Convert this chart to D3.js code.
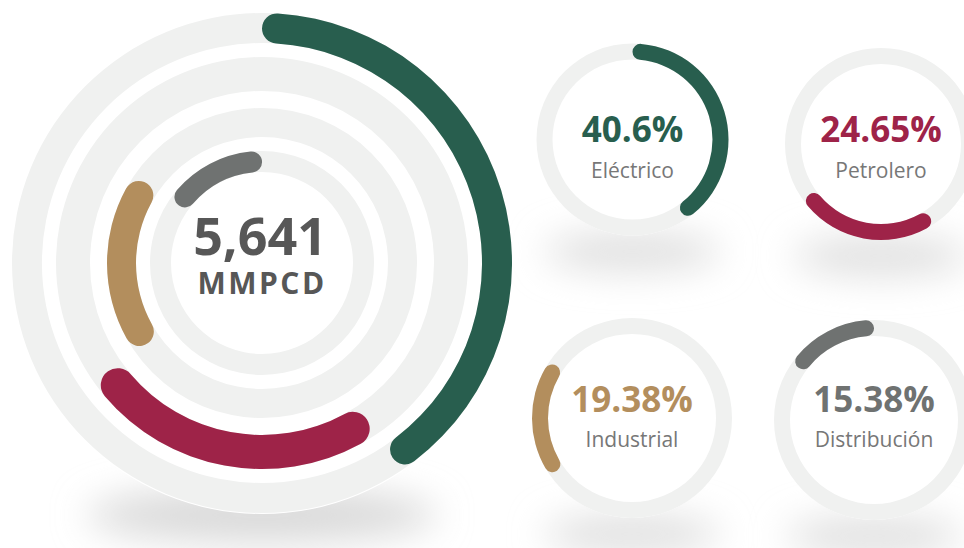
<!DOCTYPE html>
<html>
<head>
<meta charset="utf-8">
<script src="https://cdn.jsdelivr.net/npm/d3@7"></script>
<style>
	body { margin: 0; background: #fff; }
	svg { display: block; font-family: "Open Sans", "Noto Sans", sans-serif; }
</style>
</head>
<body>
<div class="gas"></div>
<script>
(function() {

	var width = 964;
	var height = 548;

	var categories = ["Eléctrico", "Petrolero", "Industrial", "Distribución"];
	var shares = [40.6, 24.65, 19.38, 15.38];
	var shareLabels = ["40.6%", "24.65%", "19.38%", "15.38%"];
	var totalLabel = "5,641";
	var unitLabel = "MMPCD";

	var colors = ["#285e4e", "#9e2348", "#b38e5d", "#6f7271"];
	var trackColor = "#f0f1f0";

	// big donut: one ring per category, outside in
	var big = { cx: 262, cy: 263 };
	var bigRings = [[220, 250], [172, 206], [126, 155], [91, 112]];

	// the four small donuts
	var small = [
		{ cx: 632.5, cy: 139.5, r: 96, pctY: 142, labY: 178 },
		{ cx: 881, cy: 144, r: 96, pctY: 142, labY: 178 },
		{ cx: 632, cy: 418, r: 100, pctY: 412, labY: 447 },
		{ cx: 874, cy: 420, r: 100, pctY: 412, labY: 447 }
	];
	var ringWidth = 16;

	var angle = d3.scaleLinear()
				  .domain([0, 100])
				  .range([0, 2 * Math.PI]);

	var ends = Array.from(d3.cumsum(shares));
	var starts = ends.map(function(d, i) { return d - shares[i]; });

	var svg = d3.select(".gas")
				.append("svg")
				.attr("width", width)
				.attr("height", height);

	var blur = svg.append("defs")
				  .append("filter")
				  .attr("id", "blur")
				  .attr("x", "-50%").attr("y", "-150%")
				  .attr("width", "200%").attr("height", "400%");
	blur.append("feGaussianBlur").attr("stdDeviation", 18);

	var arc = function(r0, r1, a0, a1) {
		return d3.arc()
				 .innerRadius(r0)
				 .outerRadius(r1)
				 .cornerRadius((r1 - r0) / 2)
				 .startAngle(a0)
				 .endAngle(a1)();
	};

	// shadows
	svg.append("ellipse")
	   .attr("cx", big.cx).attr("cy", big.cy + 252)
	   .attr("rx", 175).attr("ry", 28)
	   .attr("fill", "#dadada")
	   .attr("filter", "url(#blur)");

	svg.selectAll(".shadow")
	   .data(small)
	   .enter()
	   .append("ellipse")
	   .attr("class", "shadow")
	   .attr("cx", function(d) { return d.cx; })
	   .attr("cy", function(d) { return d.cy + d.r + 16; })
	   .attr("rx", 88).attr("ry", 20)
	   .attr("fill", "#e0e0e0")
	   .attr("filter", "url(#blur)");

	// big donut
	var g = svg.append("g")
			   .attr("transform", "translate(" + big.cx + "," + big.cy + ")");

	g.append("circle")
	 .attr("r", bigRings[0][1] + 1)
	 .attr("fill", "#fff");

	g.selectAll(".track")
	 .data(bigRings)
	 .enter()
	 .append("path")
	 .attr("class", "track")
	 .attr("fill", trackColor)
	 .attr("d", function(d) { return arc(d[0], d[1], 0, 2 * Math.PI); });

	g.selectAll(".value")
	 .data(shares)
	 .enter()
	 .append("path")
	 .attr("class", "value")
	 .attr("fill", function(d, i) { return colors[i]; })
	 .attr("d", function(d, i) {
	 	return arc(bigRings[i][0], bigRings[i][1], angle(starts[i]), angle(ends[i]));
	 });

	g.append("text")
	 .text(totalLabel)
	 .attr("text-anchor", "middle")
	 .attr("x", -2)
	 .attr("y", -8)
	 .attr("font-size", "52px")
	 .attr("font-weight", "bold")
	 .attr("fill", "#575757");

	g.append("text")
	 .text(unitLabel)
	 .attr("text-anchor", "middle")
	 .attr("x", 0)
	 .attr("y", 31)
	 .attr("font-size", "30px")
	 .attr("font-weight", "bold")
	 .attr("letter-spacing", "2.5px")
	 .attr("fill", "#575757");

	// small donuts
	var donuts = svg.selectAll(".donut")
					.data(categories)
					.enter()
					.append("g")
					.attr("class", "donut")
					.attr("transform", function(d, i) {
						return "translate(" + small[i].cx + "," + small[i].cy + ")";
					});

	donuts.append("circle")
		  .attr("r", function(d, i) { return small[i].r; })
		  .attr("fill", "#fff");

	donuts.append("path")
		  .attr("fill", trackColor)
		  .attr("d", function(d, i) {
		  	return arc(small[i].r - ringWidth, small[i].r, 0, 2 * Math.PI);
		  });

	donuts.append("path")
		  .attr("fill", function(d, i) { return colors[i]; })
		  .attr("d", function(d, i) {
		  	return arc(small[i].r - ringWidth, small[i].r, angle(starts[i]), angle(ends[i]));
		  });

	donuts.append("text")
		  .text(function(d, i) { return shareLabels[i]; })
		  .attr("text-anchor", "middle")
		  .attr("y", function(d, i) { return small[i].pctY - small[i].cy; })
		  .attr("font-size", "35px")
		  .attr("font-weight", "bold")
		  .attr("fill", function(d, i) { return colors[i]; });

	donuts.append("text")
		  .text(function(d) { return d; })
		  .attr("text-anchor", "middle")
		  .attr("y", function(d, i) { return small[i].labY - small[i].cy; })
		  .attr("font-size", "21px")
		  .attr("fill", "#777");

}())
</script>
</body>
</html>
